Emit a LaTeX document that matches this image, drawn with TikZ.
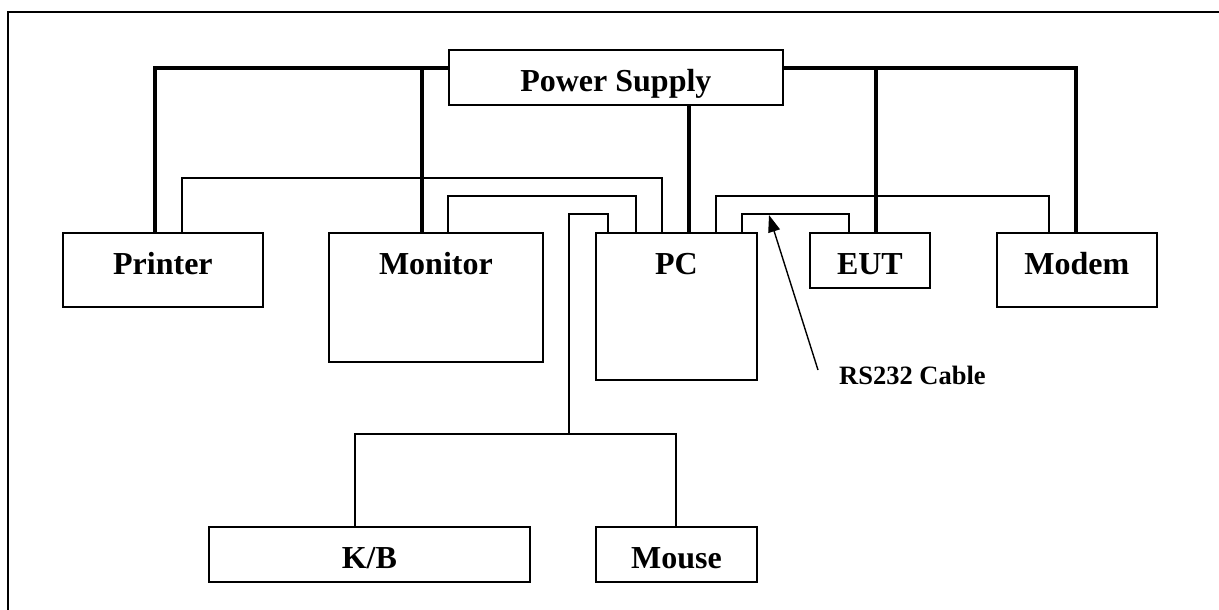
\documentclass[tikz,border=0pt]{standalone}
\usepackage{fontspec}
\setmainfont{Liberation Serif}
\usetikzlibrary{arrows.meta}

\begin{document}
\begin{tikzpicture}[x=1pt,y=-1pt,
    unit/.style={draw,line width=1.8pt,anchor=north west,inner sep=0pt,
      font=\bfseries\fontsize{32}{38}\selectfont,text height=41.5pt},
    power/.style={line width=4.8pt},
    cable/.style={line width=1.4pt}]
  \useasboundingbox (0,0) rectangle (1219,610);
  \draw[line width=1.6pt] (8,625) |- (1230,12);

  \path (448,49)
    node (ps) [unit,minimum width=334pt,text depth=13.5pt] {Power Supply}
    ;
  \path (62,232)
    node (pr) [unit,minimum width=200pt,text depth=32.5pt] {Printer} ++(266,0)
    node (mo) [unit,minimum width=214pt,text depth=87.5pt] {Monitor} ++(267,0)
    node (pc) [unit,minimum width=161pt,text depth=105.5pt] {PC} ++(214,0)
    node (eu) [unit,minimum width=120pt,text depth=13.5pt] {EUT} ++(187,0)
    node (md) [unit,minimum width=160pt,text depth=32.5pt] {Modem}
    ;
  \path (208,526)
    node (kb) [unit,minimum width=321pt,text depth=13.5pt] {K/B} ++(387,0)
    node (ms) [unit,minimum width=161pt,text depth=13.5pt] {Mouse}
    ;
  \path (839,384)
    node (rs) [anchor=base west,inner sep=0pt,font=\bfseries\fontsize{26.5}{32}\selectfont] {RS232 Cable}
    ;

  % power lines
  \path (node cs:name=ps,anchor=north west) +(0,19) coordinate (psw) {};
  \path (node cs:name=ps,anchor=north east) +(0,19) coordinate (pse) {};
  \path (node cs:name=pr,anchor=north west) +(93,0) coordinate (prp) {};
  \path (node cs:name=mo,anchor=north west) +(94,0) coordinate (mop) {};
  \path (node cs:name=pc,anchor=north west) +(94,0) coordinate (pcp) {};
  \path (node cs:name=eu,anchor=north west) +(67,0) coordinate (eup) {};
  \path (node cs:name=md,anchor=north west) +(80,0) coordinate (mdp) {};
  \draw[power] (psw) -| (prp);
  \draw[power] (mop) -- (mop |- psw);
  \draw[power] (pcp) -- (pcp |- ps.south);
  \draw[power] (pse) -| (mdp);
  \draw[power] (eup) -- (eup |- pse);

  % cables
  \path (node cs:name=pr,anchor=north west) +(120,0) coordinate (prc) {};
  \path (node cs:name=mo,anchor=north west) +(120,0) coordinate (moc) {};
  \path (node cs:name=pc,anchor=north west) +(67,0) coordinate (pca) {};
  \path (node cs:name=pc,anchor=north west) +(41,0) coordinate (pcb) {};
  \path (node cs:name=pc,anchor=north west) +(13,0) coordinate (pck) {};
  \path (node cs:name=pc,anchor=north west) +(121,0) coordinate (pcm) {};
  \path (node cs:name=pc,anchor=north west) +(147,0) coordinate (pcr) {};
  \path (node cs:name=eu,anchor=north west) +(40,0) coordinate (euc) {};
  \path (node cs:name=md,anchor=north west) +(53,0) coordinate (mdc) {};
  \draw[cable] (prc) -- ++(0,-54) -| (pca);
  \draw[cable] (moc) -- ++(0,-36) -| (pcb);
  \draw[cable] (pcm) -- ++(0,-36) -| (mdc);
  \draw[cable] (pcr) -- ++(0,-18) -| (euc);

  \path (node cs:name=kb,anchor=north west) +(147,0) coordinate (kbc) {};
  \path (node cs:name=kb,anchor=north west) +(361,-92) coordinate (kbj) {};
  \path (node cs:name=ms,anchor=north west) +(81,0) coordinate (msc) {};
  \draw[cable] (pck) -- ++(0,-18) -| (kbj);
  \draw[cable] (kbc) |- (kbj) -| (msc);

  % label arrow
  \path (node cs:name=rs,anchor=base west) +(-21,-14) coordinate (rst) {};
  \path (pcr) +(27,-17) coordinate (rsh) {};
  \draw[cable,-{Triangle[length=17pt,width=12pt]}] (rst) -- (rsh);
\end{tikzpicture}
\end{document}
